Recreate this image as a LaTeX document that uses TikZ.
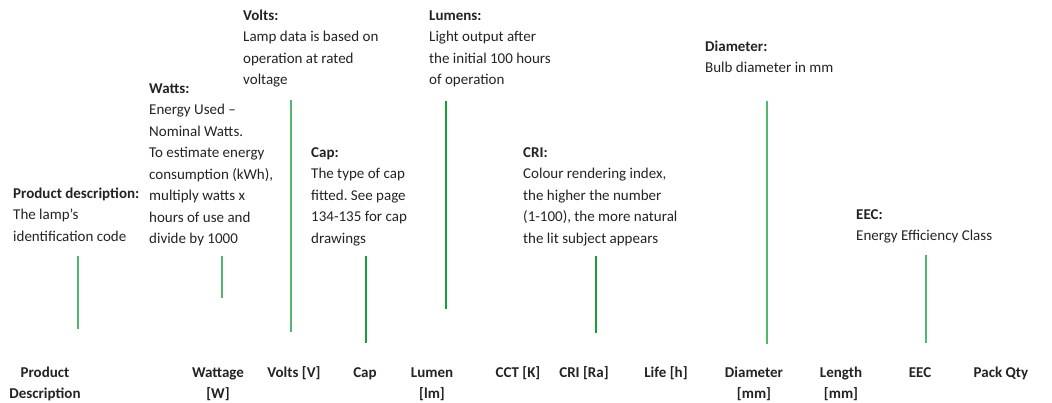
\documentclass[tikz,border=0pt]{standalone}
\usepackage{fontspec}
\setmainfont{Carlito}
\usepackage{xcolor}
\usepackage{tikz}
\frenchspacing
\definecolor{guidegreen}{RGB}{82,184,112}
\definecolor{guidedark}{RGB}{20,160,50}
\definecolor{textgrey}{RGB}{35,35,35}
\tikzset{
    info/.style={anchor=north west, inner sep=0pt, align=left, text=textgrey,
        font=\fontsize{15}{21.5}\selectfont},
    colhead/.style={anchor=north, inner sep=0pt, align=center, text=textgrey,
        font=\fontsize{15}{21}\selectfont\bfseries},
    guide/.style={draw=guidegreen, line width=1.8pt},
    guide dark/.style={draw=guidedark, line width=1.2pt}
}

\begin{document}
\begin{tikzpicture}[x=1pt, y=-1pt]
    \useasboundingbox (0,0) rectangle (1052,403);
    %
    \node[info] (pdinfo) at (13,183) {\strut\textbf{Product description:}\\The lamp’s\\identification code};
    \node[info] (wattsinfo) at (149,78) {\strut\textbf{Watts:}\\Energy Used –\\Nominal Watts.\\To estimate energy\\consumption (kWh),\\multiply watts x\\hours of use and\\divide by 1000};
    \node[info] (voltsinfo) at (243,5) {\strut\textbf{Volts:}\\Lamp data is based on\\operation at rated\\voltage};
    \node[info] (capinfo) at (311,142) {\strut\textbf{Cap:}\\The type of cap\\fitted. See page\\134-135 for cap\\drawings};
    \node[info] (lumeninfo) at (429,5) {\strut\textbf{Lumens:}\\Light output after\\the initial 100 hours\\of operation};
    \node[info] (criinfo) at (523,142) {\strut\textbf{CRI:}\\Colour rendering index,\\the higher the number\\(1-100), the more natural\\the lit subject appears};
    \node[info] (diainfo) at (705,36) {\strut\textbf{Diameter:}\\Bulb diameter in mm};
    \node[info] (eecinfo) at (856,204) {\strut\textbf{EEC:}\\Energy Efficiency Class};
    %
    \node[colhead] (pd) at (45,363) {\strut Product\\Description};
    \node[colhead] (watt) at (218,363) {\strut Wattage\\{[W]}};
    \node[colhead] (volt) at (294,363) {\strut Volts [V]};
    \node[colhead] (cap) at (365,363) {\strut Cap};
    \node[colhead] (lumen) at (432,363) {\strut Lumen\\{[lm]}};
    \node[colhead] (cct) at (518,363) {\strut CCT [K]};
    \node[colhead] (cri) at (584,363) {\strut CRI [Ra]};
    \node[colhead] (life) at (666,363) {\strut Life [h]};
    \node[colhead] (dia) at (754,363) {\strut Diameter\\{[mm]}};
    \node[colhead] (len) at (841,363) {\strut Length\\{[mm]}};
    \node[colhead] (eec) at (920,363) {\strut EEC};
    \node[colhead] (pack) at (1001,363) {\strut Pack Qty};
    %
    \coordinate (pd top) at (78,256);   \coordinate (pd end) at (78,329);
    \coordinate (watt top) at (222,256); \coordinate (watt end) at (222,298);
    \coordinate (volt top) at (291,100); \coordinate (volt end) at (291,332);
    \coordinate (cap top) at (366,256);  \coordinate (cap end) at (366,343);
    \coordinate (lumen top) at (446,101); \coordinate (lumen end) at (446,309);
    \coordinate (cri top) at (596,256);  \coordinate (cri end) at (596,333);
    \coordinate (dia top) at (767,101);  \coordinate (dia end) at (767,344);
    \coordinate (eec top) at (926,255);  \coordinate (eec end) at (926,343);
    %
    \draw[guide] (pd top) -- (pd end);
    \draw[guide] (watt top) -- (watt end);
    \draw[guide] (volt top) -- (volt end);
    \draw[guide dark] (cap top) -- (cap end);
    \draw[guide dark] (lumen top) -- (lumen end);
    \draw[guide dark] (cri top) -- (cri end);
    \draw[guide] (dia top) -- (dia end);
    \draw[guide] (eec top) -- (eec end);
    %
\end{tikzpicture}
\end{document}
